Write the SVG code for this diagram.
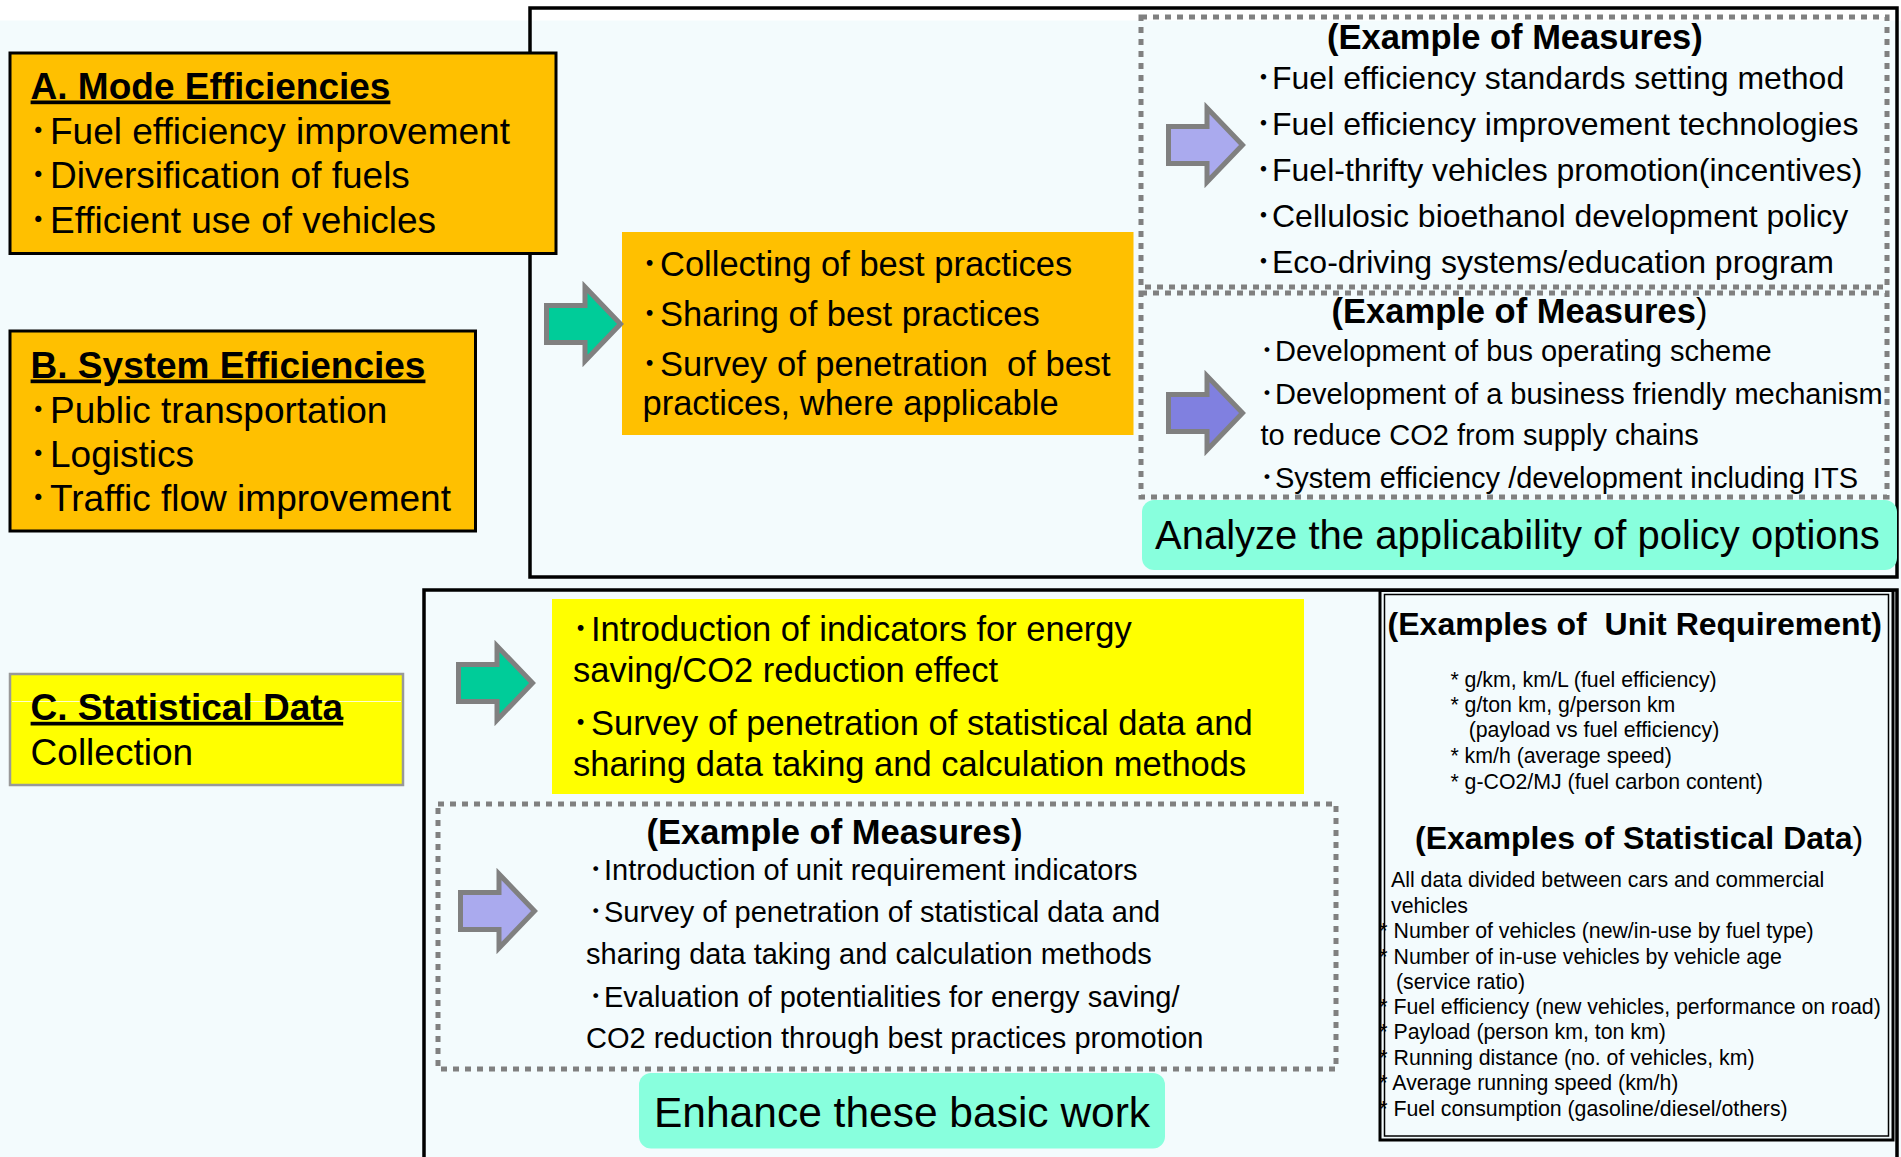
<svg xmlns="http://www.w3.org/2000/svg" width="1901" height="1157" viewBox="0 0 1901 1157">
<defs>
<style>
text{font-family:"Liberation Sans","Noto Sans CJK JP",sans-serif;fill:#000}
.b{font-weight:bold}
.n{font-weight:normal}
.u{text-decoration:underline}
.s37{font-size:37px}
.s345{font-size:34.5px}
.s32{font-size:32px}
.s29{font-size:29px}
.s21{font-size:21.3px}
.frame{fill:none;stroke:#000;stroke-width:3.5}
.dot{fill:none;stroke:#808080;stroke-width:5;stroke-dasharray:6 6}
.orange{fill:#FFC000}
.yellow{fill:#FFFF00}
.aqua{fill:#88FFDD}
</style>
<path id="arrow" d="M2.5,23.5 H41 V5 L76.5,42 L41,79 V60.5 H2.5 Z" stroke="#808080" stroke-width="5" stroke-linejoin="miter"/>
</defs>

<rect width="1901" height="1157" fill="#FFFFFF"/>
<rect y="20.5" width="1901" height="1137" fill="#F3FBFD"/>

<g id="frames">
<rect class="frame" x="530" y="8" width="1367" height="569"/>
<rect class="frame" x="424" y="590" width="1473" height="600"/>
</g>

<g id="boxA">
<rect x="10" y="53" width="546" height="200.5" class="orange" stroke="#000" stroke-width="3"/>
<text x="30.6" y="98.5" class="s37 b u">A. Mode Efficiencies</text>
<text y="144" class="s37"><tspan x="29">･</tspan><tspan x="50">Fuel efficiency improvement</tspan></text>
<text y="187.5" class="s37"><tspan x="29">･</tspan><tspan x="50">Diversification of fuels</tspan></text>
<text y="232.5" class="s37"><tspan x="29">･</tspan><tspan x="50">Efficient use of vehicles</tspan></text>
</g>

<g id="boxB">
<rect x="10" y="331" width="465.5" height="200" class="orange" stroke="#000" stroke-width="3"/>
<text x="30.6" y="377.5" class="s37 b u">B. System Efficiencies</text>
<text y="423" class="s37"><tspan x="29">･</tspan><tspan x="50">Public transportation</tspan></text>
<text y="467" class="s37"><tspan x="29">･</tspan><tspan x="50">Logistics</tspan></text>
<text y="511" class="s37"><tspan x="29">･</tspan><tspan x="50">Traffic flow improvement</tspan></text>
</g>

<g id="bestPractices">
<rect x="622" y="232" width="511.5" height="203" class="orange"/>
<text y="276" class="s345"><tspan x="641">･</tspan><tspan x="660">Collecting of best practices</tspan></text>
<text y="326" class="s345"><tspan x="641">･</tspan><tspan x="660">Sharing of best practices</tspan></text>
<text y="375.5" class="s345" xml:space="preserve"><tspan x="641">･</tspan><tspan x="660">Survey of penetration  of best</tspan></text>
<text x="642.5" y="415" class="s345">practices, where applicable</text>
</g>

<g id="measuresMode">
<rect class="dot" x="1141" y="17" width="746" height="270"/>
<text x="1327" y="49" class="s345 b">(Example of Measures)</text>
<text y="89" class="s32"><tspan x="1255.4">･</tspan><tspan x="1272">Fuel efficiency standards setting method</tspan></text>
<text y="135" class="s32"><tspan x="1255.4">･</tspan><tspan x="1272">Fuel efficiency improvement technologies</tspan></text>
<text y="181" class="s32"><tspan x="1255.4">･</tspan><tspan x="1272">Fuel-thrifty vehicles promotion(incentives)</tspan></text>
<text y="227" class="s32"><tspan x="1255.4">･</tspan><tspan x="1272">Cellulosic bioethanol development policy</tspan></text>
<text y="273" class="s32"><tspan x="1255.4">･</tspan><tspan x="1272">Eco-driving systems/education program</tspan></text>
</g>

<g id="measuresSystem">
<rect class="dot" x="1141" y="293" width="746" height="204"/>
<text x="1331.6" y="323" class="s345 b">(Example of Measures<tspan class="n">)</tspan></text>
<text y="361" class="s29"><tspan x="1259.7">･</tspan><tspan x="1275">Development of bus operating scheme</tspan></text>
<text y="403.5" class="s29"><tspan x="1259.7">･</tspan><tspan x="1275">Development of a business friendly mechanism</tspan></text>
<text x="1260.4" y="445" class="s29">to reduce CO2 from supply chains</text>
<text y="487.5" class="s29"><tspan x="1259.7">･</tspan><tspan x="1275">System efficiency /development including ITS</tspan></text>
</g>

<g id="analyze">
<rect x="1142" y="500" width="755" height="70" rx="12" class="aqua"/>
<text x="1155" y="549" style="font-size:40px">Analyze the applicability of policy options</text>
</g>

<g id="boxC">
<rect x="10" y="674" width="393" height="111" class="yellow" stroke="#999999" stroke-width="2.5"/>
<line x1="12" y1="701.5" x2="401" y2="701.5" stroke="#FFFFFF" stroke-width="1" opacity="0.8"/>
<text x="30.6" y="719.8" class="s37 b u">C. Statistical Data</text>
<text x="30.6" y="764.5" class="s37">Collection</text>
</g>

<g id="indicators">
<rect x="552" y="599" width="752" height="195" class="yellow"/>
<text y="640.7" class="s345"><tspan x="572">･</tspan><tspan x="591">Introduction of indicators for energy</tspan></text>
<text x="573" y="682.3" class="s345">saving/CO2 reduction effect</text>
<text y="734.5" class="s345"><tspan x="572">･</tspan><tspan x="591">Survey of penetration of statistical data and</tspan></text>
<text x="573" y="775.5" class="s345">sharing data taking and calculation methods</text>
</g>

<g id="measuresData">
<rect class="dot" x="438" y="804" width="898" height="265"/>
<text x="646.6" y="844" class="s345 b">(Example of Measures)</text>
<text y="880" class="s29"><tspan x="588.4">･</tspan><tspan x="604">Introduction of unit requirement indicators</tspan></text>
<text y="922" class="s29"><tspan x="588.4">･</tspan><tspan x="604">Survey of penetration of statistical data and</tspan></text>
<text x="586" y="964" class="s29">sharing data taking and calculation methods</text>
<text y="1007" class="s29"><tspan x="588.4">･</tspan><tspan x="604">Evaluation of potentialities for energy saving/</tspan></text>
<text x="586" y="1048" class="s29">CO2 reduction through best practices promotion</text>
</g>

<g id="enhance">
<rect x="639" y="1073" width="526" height="75.5" rx="12" class="aqua"/>
<text x="654" y="1126.5" style="font-size:42.5px">Enhance these basic work</text>
</g>

<g id="examples">
<rect x="1380" y="590.5" width="513" height="549.5" fill="none" stroke="#000" stroke-width="3"/>
<rect x="1384.5" y="594.5" width="504" height="541.5" fill="none" stroke="#000" stroke-width="1.5"/>
<text x="1387.6" y="634.5" class="s32 b" xml:space="preserve">(Examples of  Unit Requirement)</text>
<text x="1450.4" y="686.5" class="s21">* g/km, km/L (fuel efficiency)</text>
<text x="1450.4" y="711.7" class="s21">* g/ton km, g/person km</text>
<text x="1468.7" y="737.3" class="s21">(payload vs fuel efficiency)</text>
<text x="1450.4" y="763" class="s21">* km/h (average speed)</text>
<text x="1450.4" y="788.5" class="s21">* g-CO2/MJ (fuel carbon content)</text>
<text x="1415" y="848.6" class="s32 b">(Examples of Statistical Data<tspan class="n">)</tspan></text>
<text x="1391" y="887.3" class="s21">All data divided between cars and commercial</text>
<text x="1391" y="912.5" class="s21">vehicles</text>
<text x="1379.3" y="938" class="s21">* Number of vehicles (new/in-use by fuel type)</text>
<text x="1379.3" y="963.5" class="s21">* Number of in-use vehicles by vehicle age</text>
<text x="1396" y="988.5" class="s21">(service ratio)</text>
<text x="1379.3" y="1014" class="s21">* Fuel efficiency (new vehicles, performance on road)</text>
<text x="1379.3" y="1039.3" class="s21">* Payload (person km, ton km)</text>
<text x="1379.3" y="1064.8" class="s21">* Running distance (no. of vehicles, km)</text>
<text x="1379.3" y="1090" class="s21">* Average running speed (km/h)</text>
<text x="1379.3" y="1115.5" class="s21">* Fuel consumption (gasoline/diesel/others)</text>
</g>

<g id="connectors">
<use href="#arrow" x="544" y="282" fill="#00CC99"/>
<use href="#arrow" x="456" y="641" fill="#00CC99"/>
<use href="#arrow" x="1166" y="103" fill="#AAAAEE"/>
<use href="#arrow" x="1166" y="371" fill="#8080E0"/>
<use href="#arrow" x="458" y="869" fill="#AAAAEE"/>
</g>
</svg>
